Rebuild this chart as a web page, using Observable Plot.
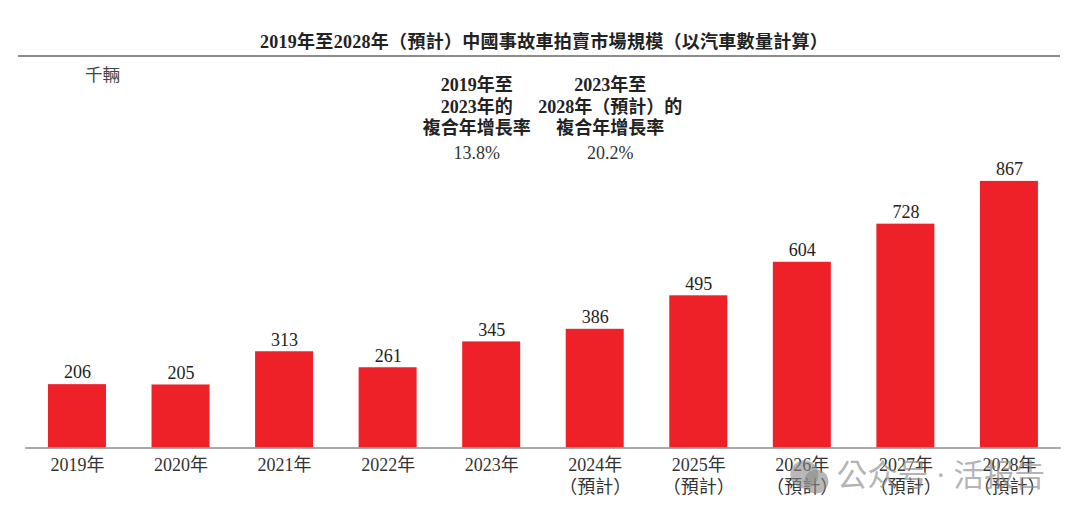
<!DOCTYPE html>
<html><head><meta charset="utf-8">
<script src="https://cdn.jsdelivr.net/npm/d3@7"></script>
<script src="https://cdn.jsdelivr.net/npm/@observablehq/plot@0.6"></script>
<style>
html,body{margin:0;padding:0;background:#fff;width:1080px;height:521px;overflow:hidden}
#title{box-sizing:content-box;height:55px;margin-left:18px;width:1042px;border-bottom:2px solid #8c8c8c;
 text-align:center;font:bold 18px/1 "Liberation Serif","Noto Sans CJK TC",serif;color:#222;letter-spacing:.29px}
#title span{display:block;padding-top:33px;padding-left:10px}
svg{display:block}
</style></head><body>
<div id="title"></div><div id="chart"></div>
<script>
const titleText = "2019年至2028年（預計）中國事故車拍賣市場規模（以汽車數量計算）";
const years = ["2019","2020","2021","2022","2023","2024","2025","2026","2027","2028"];
const tickLabels = ["2019年","2020年","2021年","2022年","2023年","2024年\n（預計）","2025年\n（預計）","2026年\n（預計）","2027年\n（預計）","2028年\n（預計）"];
const values = [206,205,313,261,345,386,495,604,728,867];
const unitLabel = "千輛";
const cagrHeads = ["2019年至\n2023年的\n複合年增長率","2023年至\n2028年（預計）的\n複合年增長率"];
const cagrValues = ["13.8%","20.2%"];
const cagrAnchors = ["2023","2024"];
const cagrOffsets = [-15,15];
const watermark = "公众号 · 活报告";
document.querySelector("#title").innerHTML = "<span>"+titleText+"</span>";
const rows = years.map((y,i)=>({y,v:values[i]}));
const font = '"Liberation Serif","Noto Sans CJK TC",serif';
const cagr = cagrHeads.map((h,i)=>({h,val:cagrValues[i],x:cagrAnchors[i],off:cagrOffsets[i]}));
const chart = Plot.plot({
  width:1080, height:464, marginTop:0, marginRight:19.3, marginLeft:25.2, marginBottom:73.5,
  style:{fontFamily:font, background:"#fff"},
  x:{domain:years, paddingInner:0.44, paddingOuter:0.22, align:0.5, round:false, label:null, axis:null},
  y:{domain:[0,1270], axis:null},
  marks:[
    Plot.barY(rows,{x:"y",y:"v",fill:"#ee2128"}),
    Plot.ruleY([0],{stroke:"#8c8c8c",strokeWidth:1.5}),
    Plot.axisX({tickSize:0,tickPadding:7,label:null,fontSize:18,lineHeight:1.24,fill:"#333",
      tickFormat:d=>tickLabels[years.indexOf(d)]}),
    Plot.text(rows,{x:"y",y:"v",text:d=>String(d.v),dy:-12,fontSize:18,fill:"#222"}),
    Plot.text([unitLabel],{x:()=>"2019",y:()=>1211,dx:25,fontSize:17.5,fill:"#444"}),
    Plot.text(cagr.filter(d=>d.off<0),{x:"x",y:()=>1113,dx:-15,text:"h",fontSize:18,fontWeight:"bold",lineHeight:1.2,fill:"#222"}),
    Plot.text(cagr.filter(d=>d.off>0),{x:"x",y:()=>1113,dx:15,text:"h",fontSize:18,fontWeight:"bold",lineHeight:1.2,fill:"#222"}),
    Plot.text(cagr.filter(d=>d.off<0),{x:"x",y:()=>958,dx:-15,text:"val",fontSize:18,fill:"#333"}),
    Plot.text(cagr.filter(d=>d.off>0),{x:"x",y:()=>958,dx:15,text:"val",fontSize:18,fill:"#333"}),
    Plot.dot([0],{x:()=>"2026",y:()=>-86,dx:2,r:14,fill:"#888",fillOpacity:.6}),
    Plot.dot([0],{x:()=>"2026",y:()=>-109,dx:14,r:12,fill:"#888",fillOpacity:.6}),
    Plot.text([watermark],{x:()=>"2027",y:()=>-93,dx:35,fontSize:30.5,fill:"#888",fillOpacity:.65})
  ]
});
document.querySelector("#chart").append(chart);
</script></body></html>
